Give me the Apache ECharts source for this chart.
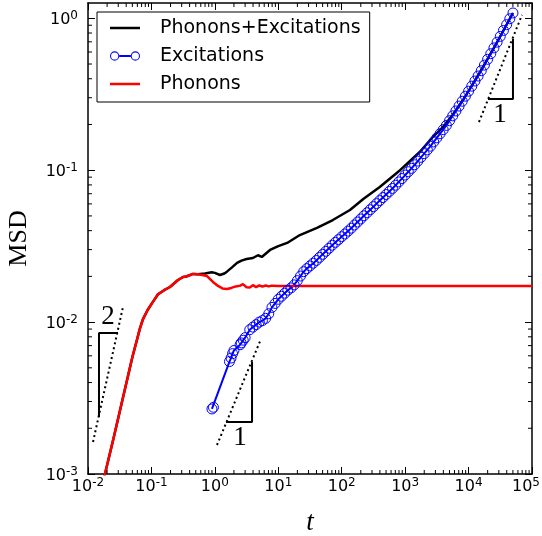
<!DOCTYPE html>
<html><head><meta charset="utf-8">
<script src="https://cdn.jsdelivr.net/npm/echarts@6/dist/echarts.min.js"></script>
<style>html,body{margin:0;padding:0;background:#fff}#c{width:542px;height:536px}</style>
</head><body><div id="c"></div><script>
// ---- data (t, MSD) ----
const phononsT = [0.01778, 0.02512, 0.03548, 0.05012, 0.0589, 0.06607, 0.07362, 0.0871, 0.1023, 0.1271, 0.1585, 0.1963, 0.2624, 0.3162, 0.3548, 0.3802, 0.4519, 0.537, 0.631, 0.7516, 0.9333, 1.122, 1.318, 1.549, 1.82, 2.138, 2.512, 2.773, 3.162, 3.548, 3.981, 4.467, 5.012, 5.623, 6.31, 7.079, 7.943, 10, 15.85, 100, 1000, 10000, 100000];
const phononsMSD = [0.000933, 0.0017, 0.003162, 0.005888, 0.00759, 0.00912, 0.01047, 0.01202, 0.01334, 0.01524, 0.01622, 0.01702, 0.01892, 0.01982, 0.01995, 0.01959, 0.02075, 0.02065, 0.0204, 0.0201, 0.01837, 0.0173, 0.01667, 0.01652, 0.01679, 0.01718, 0.01738, 0.01778, 0.01698, 0.0169, 0.0175, 0.01698, 0.01746, 0.0171, 0.01742, 0.01718, 0.01738, 0.01726, 0.0173, 0.0173, 0.0173, 0.0173, 0.0173];

const totalT = [0.01778, 0.02512, 0.03548, 0.05012, 0.0589, 0.06607, 0.07362, 0.0871, 0.1023, 0.1271, 0.1585, 0.1963, 0.2624, 0.3162, 0.3548, 0.3802, 0.4519, 0.537, 0.6998, 0.7516, 0.8913, 1.0, 1.202, 1.413, 1.549, 1.862, 2.239, 2.63, 3.162, 3.981, 4.786, 5.495, 7.413, 10, 13.8, 21.88, 40.74, 72.44, 134.9, 218.8, 398.1, 831.8, 1698, 2754, 3981, 5623, 8128, 15140, 26300, 50120];
const totalMSD = [0.000933, 0.0017, 0.003162, 0.005888, 0.00759, 0.00912, 0.01047, 0.01202, 0.01334, 0.01524, 0.01622, 0.01702, 0.01892, 0.01982, 0.01995, 0.01959, 0.02075, 0.02065, 0.02089, 0.02113, 0.02128, 0.02109, 0.02042, 0.02089, 0.02148, 0.02291, 0.02455, 0.02541, 0.026, 0.02642, 0.02754, 0.02685, 0.02985, 0.03162, 0.0332, 0.03741, 0.04169, 0.04699, 0.0547, 0.06457, 0.07762, 0.1, 0.1318, 0.166, 0.1928, 0.2317, 0.2884, 0.4416, 0.6607, 1.084];

const excT = [0.9, 0.95, 1.7, 1.8, 1.9, 2.0, 2.5, 2.6, 2.8, 3.0,
  3.548, 3.981, 4.467, 5.012, 5.623, 6.310, 7.079, 7.943, 8.913,
  10, 11.22, 12.59, 14.13, 15.85, 17.78, 19.95, 22.39, 25.12, 28.18, 31.62, 35.48, 39.81, 44.67, 50.12, 56.23, 63.10, 70.79, 79.43, 89.13,
  100, 112.2, 125.9, 141.3, 158.5, 177.8, 199.5, 223.9, 251.2, 281.8, 316.2, 354.8, 398.1, 446.7, 501.2, 562.3, 631.0, 707.9, 794.3, 891.3,
  1000, 1122, 1259, 1413, 1585, 1778, 1995, 2239, 2512, 2818, 3162, 3548, 3981, 4467, 5012, 5623, 6310, 7079, 7943, 8913,
  10000, 11220, 12590, 14130, 15850, 17780, 19950, 22390, 25120, 28180, 31620, 35480, 39810, 44670, 50120];
const excMSD = [0.00268, 0.00275, 0.0055, 0.0058, 0.0062, 0.0065, 0.0071, 0.0073, 0.0076, 0.0079,
  0.00891, 0.00927, 0.00962, 0.0100, 0.01023, 0.01059, 0.01135, 0.0125, 0.01327,
  0.01413, 0.01479, 0.01549, 0.01622, 0.01679, 0.01758, 0.01875, 0.0201, 0.02148, 0.02249, 0.02344, 0.02443, 0.02547, 0.02667, 0.02793, 0.02924, 0.03062, 0.03206, 0.0335, 0.03491,
  0.03648, 0.03802, 0.03972, 0.0415, 0.04355, 0.0456, 0.04775, 0.05012, 0.05248, 0.05495, 0.05754, 0.06026, 0.0631, 0.06607, 0.06918, 0.07244, 0.07586, 0.07962, 0.08375, 0.0881,
  0.0929, 0.09772, 0.1028, 0.1086, 0.1148, 0.1216, 0.1285, 0.1361, 0.1439, 0.1535, 0.1633, 0.1738, 0.1849, 0.1972, 0.2118, 0.228, 0.2455, 0.2642, 0.2844, 0.3069,
  0.3311, 0.3573, 0.3864, 0.4169, 0.4519, 0.492, 0.537, 0.5848, 0.6383, 0.6966, 0.7603, 0.8318, 0.9078, 0.9931, 1.084];

// slope guides
const guide2DashT = [0.012, 0.0356];
const guide2DashMSD = [0.001626, 0.01256];
const guide2TriT = [0.0149, 0.0149, 0.0297];
const guide2TriMSD = [0.00237, 0.00848, 0.00848];
const guideMidDashT = [1.081, 5.33];
const guideMidDashMSD = [0.001552, 0.00774];
const guideMidTriT = [1.5, 3.855, 3.855];
const guideMidTriMSD = [0.0022, 0.0022, 0.00546];
const guideTopDashT = [14590, 69500];
const guideTopDashMSD = [0.2075, 1.052];
const guideTopTriT = [20230, 50120, 50120];
const guideTopTriMSD = [0.2944, 0.2944, 0.731];
const annotT = [0.02065, 2.49, 31260];
const annotMSD = [0.01081, 0.001726, 0.2307];
const annotLabels = ['2', '1', '1'];

const xMin = 0.01, xMax = 100000, yMin = 0.001, yMax = 1.261;
const xMinor = []; for (let d = -2; d < 5; d++) for (let k = 2; k < 10; k++) xMinor.push(k * Math.pow(10, d));
const yMinor = []; for (let d = -3; d < 0; d++) for (let k = 2; k < 10; k++) yMinor.push(k * Math.pow(10, d));

const zip = (a, b) => a.map((v, i) => [v, b[i]]);

function powLabel(v) {
  const l = Math.log10(v); const e = Math.round(l);
  if (Math.abs(l - e) > 1e-6) return '';
  if (e === 5) return '{b|10}{se|' + e + '}';
  return '{b|10}{s|' + e + '}';
}
const labelRich = {
  b: { fontFamily: 'DejaVu Sans', fontSize: 16, color: '#000', lineHeight: 16, padding: [3, 0, 0, 0] },
  s: { fontFamily: 'DejaVu Sans', fontSize: 12, color: '#000', lineHeight: 12, verticalAlign: 'top' },
  se: { fontFamily: 'DejaVu Sans', fontSize: 12, color: '#000', lineHeight: 12, verticalAlign: 'top', padding: [0, 12, 0, 0] }
};
const axLine = { show: true, lineStyle: { color: '#000', width: 1.5 } };
const axTick = { show: true, inside: true, length: 7, lineStyle: { color: '#000', width: 1 } };
const lineIcon = 'path://M0,0H30V2.5H0Z';
const ringsIcon = 'path://M0.5,5A4.5,4.5 0 1,0 9.5,5A4.5,4.5 0 1,0 0.5,5Z' +
  'M1.5,5A3.5,3.5 0 1,1 8.5,5A3.5,3.5 0 1,1 1.5,5Z' +
  'M9.5,4H20.5V6H9.5Z' +
  'M20.5,5A4.5,4.5 0 1,0 29.5,5A4.5,4.5 0 1,0 20.5,5Z' +
  'M21.5,5A3.5,3.5 0 1,1 28.5,5A3.5,3.5 0 1,1 21.5,5Z';

function guideLine(name, t, m, dashed) {
  return {
    name: name, type: 'line', data: zip(t, m), symbol: 'none', silent: true,
    lineStyle: { color: '#000', width: 2, type: dashed ? [2, 3] : 'solid' }, z: 3
  };
}

const chart = echarts.init(document.getElementById('c'), null, { renderer: 'canvas' });
chart.setOption({
  animation: false,
  backgroundColor: '#fff',
  grid: { left: 88, right: 10, top: 3, bottom: 62, containLabel: false, outerBoundsMode: 'none' },
  legend: {
    data: [
      { name: 'Phonons+Excitations', icon: lineIcon, itemStyle: { color: '#000' } },
      { name: 'Excitations', icon: ringsIcon, itemStyle: { color: '#0000ff', borderWidth: 0 } },
      { name: 'Phonons', icon: lineIcon, itemStyle: { color: '#ff0000' } }
    ],
    orient: 'vertical', left: 97, top: 12,
    padding: [6, 9, 8, 13],
    itemWidth: 30, itemHeight: 10, itemGap: 8,
    backgroundColor: '#fff', borderColor: '#000', borderWidth: 1, borderRadius: 0,
    selectedMode: false,
    textStyle: { fontFamily: 'DejaVu Sans', fontSize: 19, color: '#000', lineHeight: 20, padding: [0, 0, 0, 15] }
  },
  xAxis: [
    { type: 'log', min: xMin, max: xMax, splitNumber: 7, position: 'bottom',
      axisLine: axLine, axisTick: axTick, splitLine: { show: false },
      axisLabel: { formatter: powLabel, rich: labelRich, margin: 3, showMaxLabel: true, hideOverlap: false },
      name: 't', nameLocation: 'middle', nameGap: 35,
      nameTextStyle: { fontFamily: 'Liberation Serif', fontStyle: 'italic', fontSize: 27, color: '#000' } },
    { type: 'log', min: xMin, max: xMax, splitNumber: 7, position: 'top',
      axisLine: axLine, axisTick: axTick, splitLine: { show: false }, axisLabel: { show: false } }
  ],
  yAxis: [
    { type: 'log', min: yMin, max: yMax, splitNumber: 3, position: 'left',
      axisLine: axLine, axisTick: axTick, splitLine: { show: false },
      axisLabel: { formatter: powLabel, rich: labelRich, margin: 10, showMaxLabel: false, hideOverlap: false },
      name: 'MSD', nameLocation: 'middle', nameGap: 56,
      nameTextStyle: { fontFamily: 'Liberation Serif', fontSize: 26, color: '#000' } },
    { type: 'log', min: yMin, max: yMax, splitNumber: 3, position: 'right',
      axisLine: axLine, axisTick: axTick, splitLine: { show: false }, axisLabel: { show: false } }
  ],
  series: [
    { name: 'Phonons+Excitations', type: 'line', data: zip(totalT, totalMSD), symbol: 'none',
      lineStyle: { color: '#000', width: 2.5 }, itemStyle: { color: '#000' }, z: 2 },
    { name: 'Excitations', type: 'line', data: zip(excT, excMSD), symbol: 'circle', symbolSize: 10,
      showSymbol: true, showAllSymbol: true,
      lineStyle: { color: '#0000ff', width: 2 }, itemStyle: { color: 'rgba(0,0,255,0)', borderColor: '#0000ff', borderWidth: 1 }, z: 2 },
    { name: 'Phonons', type: 'line', data: zip(phononsT, phononsMSD), symbol: 'none',
      lineStyle: { color: '#ff0000', width: 2.5 }, itemStyle: { color: '#ff0000' }, z: 2 },
    guideLine('g2d', guide2DashT, guide2DashMSD, true),
    guideLine('g2t', guide2TriT, guide2TriMSD, false),
    guideLine('gmd', guideMidDashT, guideMidDashMSD, true),
    guideLine('gmt', guideMidTriT, guideMidTriMSD, false),
    guideLine('gtd', guideTopDashT, guideTopDashMSD, true),
    guideLine('gtt', guideTopTriT, guideTopTriMSD, false),
    { name: 'annot', type: 'custom', silent: true, data: zip(annotT, annotMSD), z: 4,
      renderItem: function (params, api) {
        const p = api.coord([api.value(0), api.value(1)]);
        return { type: 'text', x: p[0], y: p[1],
          style: { text: annotLabels[params.dataIndex], fontFamily: 'Liberation Serif', fontSize: 27, fill: '#000', align: 'center', verticalAlign: 'middle' } };
      } },
    { name: 'minorX', type: 'custom', silent: true, data: xMinor.map(v => [v, 0.01]), z: 5, clip: false,
      renderItem: function (params, api) {
        const p = api.coord([api.value(0), api.value(1)]);
        const cs = params.coordSys; const b = cs.y + cs.height, t = cs.y;
        return { type: 'group', children: [
          { type: 'line', shape: { x1: p[0], y1: b, x2: p[0], y2: b - 4 }, style: { stroke: '#000', lineWidth: 1 } },
          { type: 'line', shape: { x1: p[0], y1: t, x2: p[0], y2: t + 4 }, style: { stroke: '#000', lineWidth: 1 } }
        ] };
      } },
    { name: 'minorY', type: 'custom', silent: true, data: yMinor.map(v => [1, v]), z: 5, clip: false,
      renderItem: function (params, api) {
        const p = api.coord([api.value(0), api.value(1)]);
        const cs = params.coordSys; const l = cs.x, r = cs.x + cs.width;
        return { type: 'group', children: [
          { type: 'line', shape: { x1: l, y1: p[1], x2: l + 4, y2: p[1] }, style: { stroke: '#000', lineWidth: 1 } },
          { type: 'line', shape: { x1: r, y1: p[1], x2: r - 4, y2: p[1] }, style: { stroke: '#000', lineWidth: 1 } }
        ] };
      } }
  ]
});
</script></body></html>
